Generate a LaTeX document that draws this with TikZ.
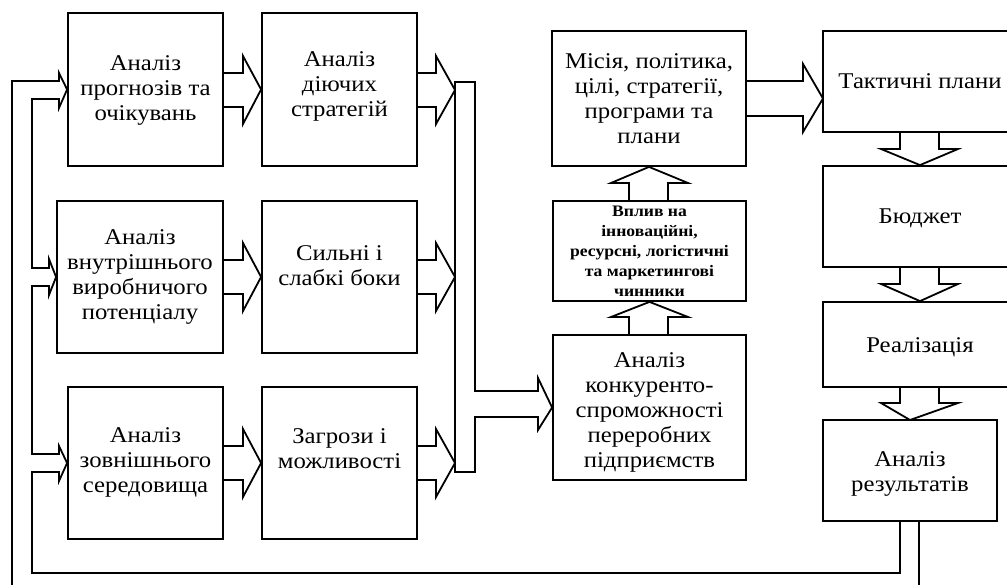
\documentclass[tikz,border=0pt]{standalone}
\usepackage{fontspec}
\setmainfont{Liberation Serif}[FakeStretch=1.1]
\begin{document}
\begin{tikzpicture}[x=1pt,y=-1pt,line join=miter,
  box/.style={draw,line width=1.8pt,inner sep=0pt},
  tx/.style={font=\fontsize{22.5}{25}\selectfont,align=center,inner sep=0pt},
  bt/.style={font=\bfseries\fontsize{16}{20}\selectfont,align=center,inner sep=0pt},
  arr/.style={draw,line width=1.8pt}]
\useasboundingbox (0,0) rectangle (1007,585);
\clip (0,0) rectangle (1007,585);
% column 1
\node[box,minimum width=155pt,minimum height=153pt,label={[tx,yshift=-1pt]center:{Аналіз\\прогнозів та\\очікувань}}] (b1) at (145.5,89.5) {};
\node[box,minimum width=166pt,minimum height=152pt,label={[tx,yshift=0.5pt]center:{Аналіз\\внутрішнього\\виробничого\\потенціалу}}] (b2) at (140,277) {};
\node[box,minimum width=155pt,minimum height=152pt,label={[tx,yshift=0.5pt]center:{Аналіз\\зовнішнього\\середовища}}] (b3) at (145.5,463) {};
% column 2
\node[box,minimum width=155pt,minimum height=153pt,label={[tx,yshift=3.5pt]center:{Аналіз\\діючих\\стратегій}}] (c1) at (339.5,89.5) {};
\node[box,minimum width=155pt,minimum height=152pt,label={[tx,yshift=11.5pt]center:{Сильні і\\слабкі боки}}] (c2) at (339.5,277) {};
\node[box,minimum width=155pt,minimum height=152pt,label={[tx,yshift=14pt]center:{Загрози і\\можливості}}] (c3) at (339.5,463) {};
% middle column
\node[box,minimum width=194pt,minimum height=135pt,label={[tx]center:{Місія, політика,\\цілі, стратегії,\\програми та\\плани}}] (m) at (649,98.5) {};
\node[box,minimum width=193pt,minimum height=100pt,label={[bt]center:{Вплив на\\інноваційні,\\ресурсні, логістичні\\та маркетингові\\чинники}}] (v) at (649.5,251) {};
\node[box,minimum width=193pt,minimum height=145pt,label={[tx,yshift=-4.5pt]center:{Аналіз\\конкуренто-\\спроможності\\переробних\\підприємств}}] (k) at (649.5,407.5) {};
% right column
\node[box,minimum width=194pt,minimum height=101pt,label={[tx]center:{Тактичні плани}}] (t) at (920,81.5) {};
\node[box,minimum width=194pt,minimum height=101pt,label={[tx,yshift=-1.5pt]center:{Бюджет}}] (bu) at (920,216.5) {};
\node[box,minimum width=194pt,minimum height=85pt,label={[tx,yshift=-2.5pt]center:{Реалізація}}] (r) at (920,344.5) {};
\node[box,minimum width=174pt,minimum height=101pt,label={[tx,yshift=-3.5pt]center:{Аналіз\\результатів}}] (ar) at (910,470.5) {};
% column 1 -> column 2
\draw[arr] (223,73) -- (243,73) -- (243,56) -- (c1.west) -- (243,124) -- (243,107) -- (223,107);
\draw[arr] (223,260) -- (243,260) -- (243,243) -- (c2.west) -- (243,311) -- (243,294) -- (223,294);
\draw[arr] (223,446) -- (243,446) -- (243,429) -- (c3.west) -- (243,497) -- (243,480) -- (223,480);
% bus with output arrow
\coordinate (bt1) at (455,90);
\coordinate (bt2) at (455,277);
\coordinate (bt3) at (455,463);
\draw[arr] (455,82) -- (475,82) -- (475,391) -- (538,391) -- (538,378) -- (k.west) -- (538,430) -- (538,417) -- (475,417) -- (475,472) -- (455,472) -- cycle;
\draw[arr] (417,73) -- (436,73) -- (436,56) -- (bt1) -- (436,124) -- (436,107) -- (417,107);
\draw[arr] (417,260) -- (436,260) -- (436,243) -- (bt2) -- (436,311) -- (436,294) -- (417,294);
\draw[arr] (417,446) -- (436,446) -- (436,429) -- (bt3) -- (436,497) -- (436,480) -- (417,480);
% middle vertical arrows
\draw[arr] (629,335) -- (629,317) -- (611,317) -- (v.south) -- (688,317) -- (668,317) -- (668,335);
\draw[arr] (629,201) -- (629,183) -- (611,183) -- (m.south) -- (688,183) -- (668,183) -- (668,201);
% mission -> tactical
\draw[arr] (746,81) -- (803,81) -- (803,64) -- (823,98.5) -- (803,132) -- (803,116) -- (746,116);
% right column down arrows
\draw[arr] (900,132) -- (900,149) -- (881,149) -- (bu.north) -- (958,149) -- (939,149) -- (939,132);
\draw[arr] (900,267) -- (900,284) -- (881,284) -- (r.north) -- (958,284) -- (939,284) -- (939,267);
\draw[arr] (900,387) -- (900,403) -- (881,403) -- (910,420) -- (958,403) -- (939,403) -- (939,387);
% feedback
\draw[arr] (919,521) -- (919,595) -- (12,595) -- (12,81) -- (59,81) -- (59,73) -- (b1.west) -- (59,108) -- (59,99) -- (32,99)
  -- (32,268) -- (49,268) -- (49,259) -- (b2.west) -- (49,295) -- (49,286) -- (32,286)
  -- (32,454) -- (59,454) -- (59,446) -- (b3.west) -- (59,481) -- (59,472) -- (32,472)
  -- (32,573) -- (900,573) -- (900,521);
\end{tikzpicture}
\end{document}
